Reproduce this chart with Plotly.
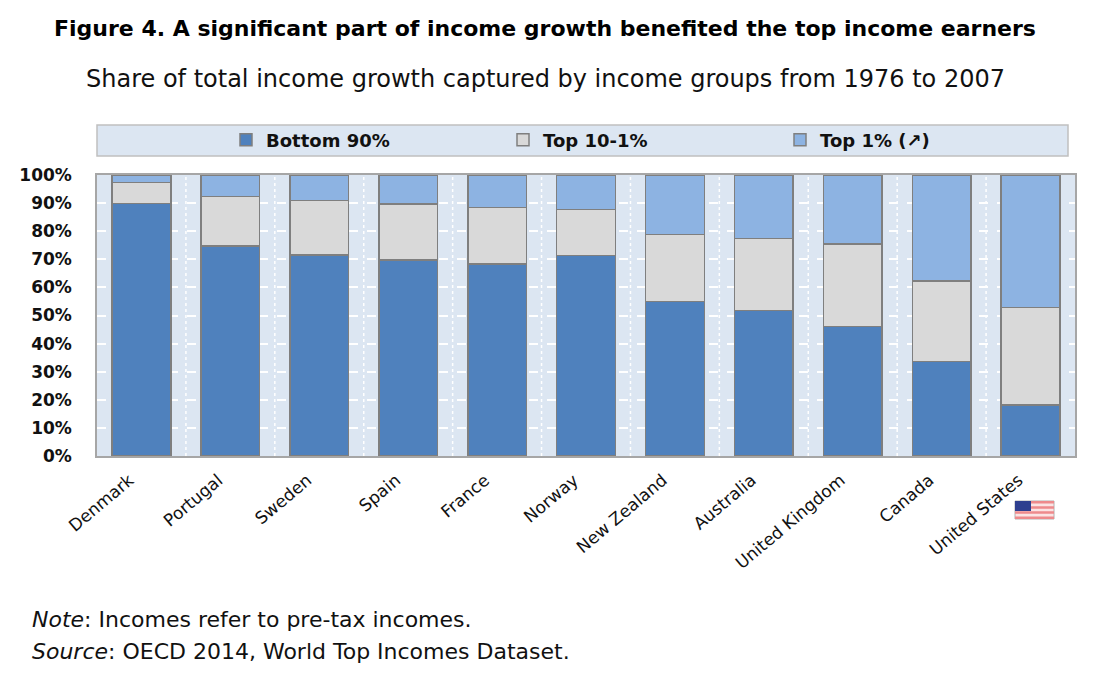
import plotly.graph_objects as go

# ── Datos (lectura aproximada del gráfico, % del crecimiento total) ──────────
COUNTRIES = ["Denmark", "Portugal", "Sweden", "Spain", "France", "Norway",
             "New Zealand", "Australia", "United Kingdom", "Canada", "United States"]
BOTTOM_90 = [89.9, 74.8, 71.5, 69.7, 68.3, 71.3, 54.9, 51.7, 46.0, 33.7, 18.1]
TOP_10_1  = [7.5, 17.5, 19.4, 20.0, 20.1, 16.5, 24.0, 25.7, 29.5, 28.6, 34.8]
TOP_1     = [2.6, 7.7, 9.1, 10.3, 11.6, 12.2, 21.1, 22.6, 24.5, 37.7, 47.1]
Y_TICKS   = [0, 10, 20, 30, 40, 50, 60, 70, 80, 90, 100]
Y_LABELS  = ["0%", "10%", "20%", "30%", "40%", "50%", "60%", "70%", "80%", "90%", "100%"]

TITLE    = "Figure 4. A significant part of income growth benefited the top income earners"
SUBTITLE = "Share of total income growth captured by income groups from 1976 to 2007"

FONT     = "DejaVu Sans"
BAR_LINE = dict(color="#7F7F7F", width=1.5)

# geometría en px (ventana 1102x676)
W, H = 1102, 676
PL, PR, PT, PB = 97, 1075, 175, 456


def px_x(x):
    return (x - PL) / (PR - PL)


def px_y(y):
    return (PB - y) / (PB - PT)


fig = go.Figure()
for name, vals, color in [("Bottom 90%", BOTTOM_90, "#4F81BD"),
                          ("Top 10-1%", TOP_10_1, "#D9D9D9"),
                          ("Top 1% (↗)", TOP_1, "#8DB3E2")]:
    fig.add_trace(go.Bar(x=COUNTRIES, y=vals, name=name,
                         marker=dict(color=color, line=BAR_LINE)))

# caja de la leyenda
shapes = [dict(type="rect", xref="paper", yref="paper",
               x0=px_x(97), x1=px_x(1068), y0=px_y(156), y1=px_y(125),
               fillcolor="#DCE6F2", line=dict(color="#C0C0C0", width=1.5),
               layer="below")]

# rejilla vertical punteada entre categorías
for i in range(len(COUNTRIES) - 1):
    shapes.append(dict(type="line", xref="x", yref="paper",
                       x0=i + 0.5, x1=i + 0.5, y0=0, y1=1,
                       line=dict(color="white", width=1.5, dash="dot"),
                       layer="below"))

# bandera EE. UU. bajo la etiqueta
fx0, fx1, fy0, fy1 = 1015, 1054, 501, 519
shapes.append(dict(type="rect", xref="paper", yref="paper",
                   x0=px_x(fx0), x1=px_x(fx1), y0=px_y(fy1), y1=px_y(fy0),
                   fillcolor="#FBE4E4", line=dict(color="#B0B0B0", width=1)))
stripe = (fy1 - fy0) / 7
for i in range(0, 7, 2):
    shapes.append(dict(type="rect", xref="paper", yref="paper",
                       x0=px_x(fx0), x1=px_x(fx1),
                       y0=px_y(fy0 + (i + 1) * stripe), y1=px_y(fy0 + i * stripe),
                       fillcolor="#EE8A8C", line=dict(width=0)))
shapes.append(dict(type="rect", xref="paper", yref="paper",
                   x0=px_x(fx0), x1=px_x(fx0 + 16), y0=px_y(fy0 + 10), y1=px_y(fy0),
                   fillcolor="#2E3F8F", line=dict(width=0)))

annotations = [
    dict(text=f"<b>{TITLE}</b>", x=px_x(545), y=px_y(28), xref="paper", yref="paper",
         xanchor="center", yanchor="middle", showarrow=False,
         font=dict(family=FONT, size=22, color="#000000")),
    dict(text=SUBTITLE, x=px_x(545), y=px_y(79), xref="paper", yref="paper",
         xanchor="center", yanchor="middle", showarrow=False,
         font=dict(family=FONT, size=24, color="#111111")),
    dict(text="<i>Note</i>: Incomes refer to pre-tax incomes.", x=px_x(30), y=px_y(619),
         xref="paper", yref="paper", xanchor="left", yanchor="middle", showarrow=False,
         font=dict(family=FONT, size=22, color="#111111")),
    dict(text="<i>Source</i>: OECD 2014, World Top Incomes Dataset.", x=px_x(30), y=px_y(651),
         xref="paper", yref="paper", xanchor="left", yanchor="middle", showarrow=False,
         font=dict(family=FONT, size=22, color="#111111")),
]

fig.update_layout(
    width=W, height=H,
    barmode="stack", bargap=0.34,
    margin=dict(l=PL, r=W - PR, t=PT, b=H - PB),
    paper_bgcolor="white", plot_bgcolor="#DCE6F2",
    font=dict(family=FONT, color="#111111"),
    showlegend=True,
    legend=dict(orientation="h", x=px_x(226), y=px_y(140), xanchor="left", yanchor="middle",
                bgcolor="rgba(0,0,0,0)", borderwidth=0,
                entrywidth=232, entrywidthmode="pixels",
                font=dict(family=FONT, size=18, color="#111111", weight=700),
                traceorder="normal"),
    shapes=shapes,
    annotations=annotations,
)
fig.update_xaxes(
    tickangle=-40, tickfont=dict(family=FONT, size=17, color="#111111"),
    ticklabelshift=-12, ticklabelstandoff=6,
    ticks="", showgrid=False,
    showline=True, linecolor="#A6A6A6", linewidth=1.5, mirror=True,
    automargin=False,
)
fig.update_yaxes(
    range=[0, 100], tickvals=Y_TICKS, ticktext=Y_LABELS,
    tickfont=dict(family=FONT, size=17, color="#111111", weight=700),
    ticklabelstandoff=20,
    showgrid=True, gridcolor="white", griddash="dash", gridwidth=1.5,
    showline=True, linecolor="#A6A6A6", linewidth=1.5, mirror=True,
    zeroline=False, automargin=False,
)

fig.write_html("out.html", config={"displayModeBar": False},
               post_script="document.body.style.margin='0';")
